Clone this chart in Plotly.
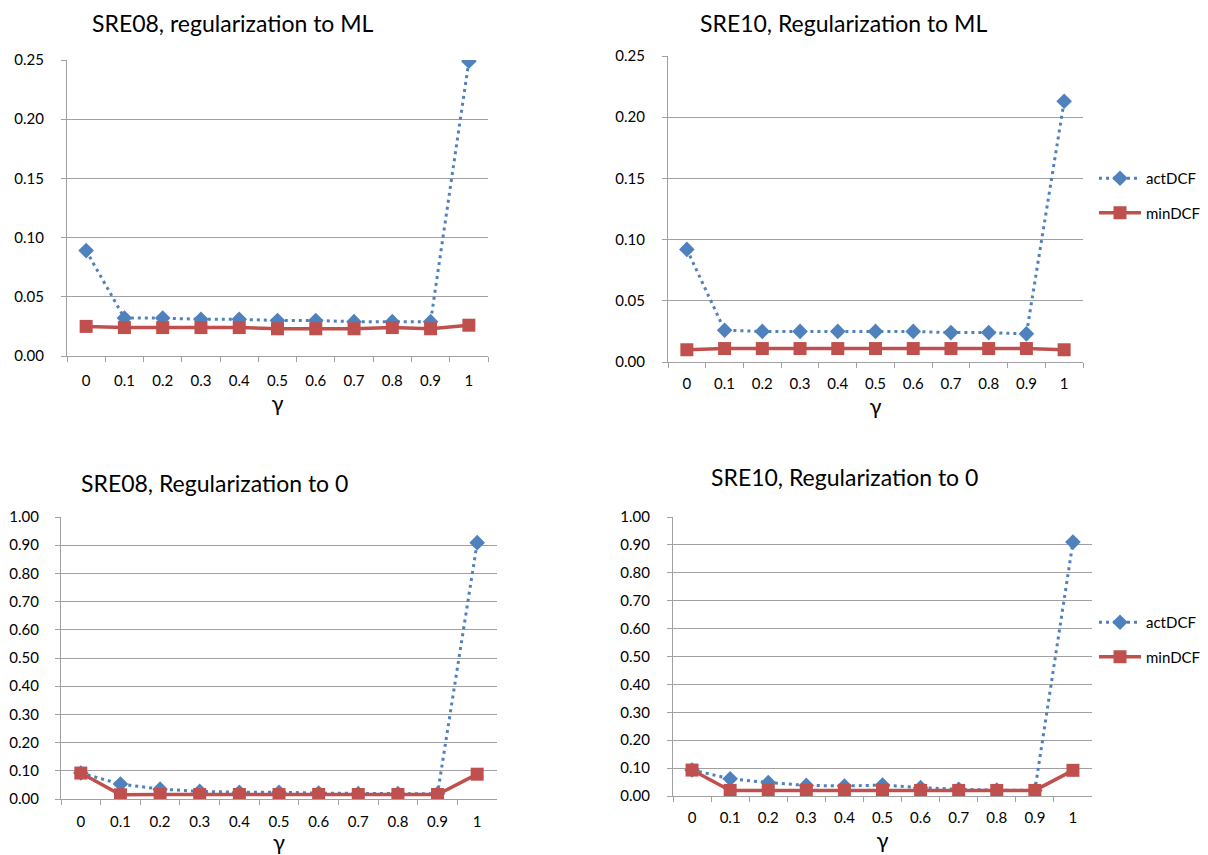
import plotly.graph_objects as go

gammas = ["0", "0.1", "0.2", "0.3", "0.4", "0.5", "0.6", "0.7", "0.8", "0.9", "1"]

titles = ["SRE08, regularization to ML", "SRE10, Regularization to ML",
          "SRE08, Regularization to 0", "SRE10, Regularization to 0"]

act_sre08_ml = [0.089, 0.032, 0.032, 0.031, 0.031, 0.030, 0.030, 0.029, 0.029, 0.029, 0.249]
min_sre08_ml = [0.025, 0.024, 0.024, 0.024, 0.024, 0.023, 0.023, 0.023, 0.024, 0.023, 0.026]
act_sre10_ml = [0.092, 0.026, 0.025, 0.025, 0.025, 0.025, 0.025, 0.024, 0.024, 0.023, 0.213]
min_sre10_ml = [0.010, 0.011, 0.011, 0.011, 0.011, 0.011, 0.011, 0.011, 0.011, 0.011, 0.010]
act_sre08_0 = [0.092, 0.053, 0.035, 0.027, 0.024, 0.024, 0.021, 0.019, 0.019, 0.019, 0.909]
min_sre08_0 = [0.092, 0.015, 0.016, 0.016, 0.016, 0.016, 0.016, 0.016, 0.016, 0.016, 0.088]
act_sre10_0 = [0.093, 0.062, 0.048, 0.038, 0.036, 0.039, 0.030, 0.024, 0.021, 0.020, 0.910]
min_sre10_0 = [0.093, 0.020, 0.020, 0.020, 0.020, 0.020, 0.020, 0.020, 0.020, 0.020, 0.092]

act_series = [act_sre08_ml, act_sre10_ml, act_sre08_0, act_sre10_0]
min_series = [min_sre08_ml, min_sre10_ml, min_sre08_0, min_sre10_0]
y_ranges = [[0, 0.25], [0, 0.25], [0, 1.0], [0, 1.0]]
y_dticks = [0.05, 0.05, 0.1, 0.1]

# The page body has an 8px margin: the figure is drawn 8px in from the
# top-left corner, so it is sized to fill the rest of the 1208x855 window.
OFF = 8
W, H = 1208 - OFF, 855 - OFF

# plot areas in window pixels: (left, right, top, bottom)
areas = [(67, 488, 60, 356), (668, 1083, 56, 362), (61, 497, 517, 799), (673, 1092, 517, 796)]
title_pos = [(233, 23), (843, 23), (215, 483), (844, 477)]
xlabel_standoff = [11, 8, 9, 8]
ylabel_standoff = [14, 14, 13, 14]
gamma_standoff = [5, 0, 8, 0]
legend_mid = [None, 195.5, None, 639.5]
legend_left = 1094

BLUE = "#4F81BD"
RED = "#C0504D"
GRID = "#A0A0A0"
FONT = "Lato"


def px_x(v):
    return (v - OFF) / W


def px_y(v):
    return 1 - (v - OFF) / H


fig = go.Figure()
layout = dict(width=W, height=H,
              margin=dict(l=0, r=0, t=0, b=0, pad=0, autoexpand=False),
              paper_bgcolor="white", plot_bgcolor="white",
              font=dict(family=FONT, size=15, color="#000000"))

annotations = []
for i in range(4):
    n = i + 1
    xa = "x" if n == 1 else f"x{n}"
    ya = "y" if n == 1 else f"y{n}"
    leg = "legend" if n == 2 else ("legend2" if n == 4 else None)
    show = leg is not None
    fig.add_trace(go.Scatter(
        x=gammas, y=act_series[i], name="actDCF", xaxis=xa, yaxis=ya,
        mode="lines+markers",
        line=dict(color=BLUE, width=3, dash="3px,4px"),
        marker=dict(symbol="diamond", size=12, color=BLUE),
        showlegend=show, legend=leg if leg else "legend",
        legendgroup=f"a{n}"))
    fig.add_trace(go.Scatter(
        x=gammas, y=min_series[i], name="minDCF", xaxis=xa, yaxis=ya,
        mode="lines+markers",
        line=dict(color=RED, width=3.5),
        marker=dict(symbol="square", size=13, color=RED),
        showlegend=show, legend=leg if leg else "legend",
        legendgroup=f"m{n}"))

    l, r, t, b = areas[i]
    xkey = "xaxis" if n == 1 else f"xaxis{n}"
    ykey = "yaxis" if n == 1 else f"yaxis{n}"
    layout[xkey] = dict(
        domain=[px_x(l), px_x(r)], anchor=ya, type="category",
        range=[-0.5, 10.5], tickson="boundaries", ticks="outside", ticklen=5,
        tickcolor=GRID, showline=True, linecolor=GRID, linewidth=1,
        showgrid=False, zeroline=False, tickfont=dict(size=15, family=FONT),
        ticklabelstandoff=xlabel_standoff[i],
        title=dict(text="γ", font=dict(size=22, family=FONT), standoff=gamma_standoff[i]),
        fixedrange=True)
    layout[ykey] = dict(
        domain=[px_y(b), px_y(t)], anchor=xa, range=y_ranges[i],
        dtick=y_dticks[i], tickformat=".2f", ticks="outside", ticklen=5,
        tickcolor=GRID, showline=True, linecolor=GRID, linewidth=1,
        showgrid=True, gridcolor=GRID, gridwidth=1, zeroline=False,
        tickfont=dict(size=15, family=FONT), ticklabelstandoff=ylabel_standoff[i],
        fixedrange=True)
    tx, ty = title_pos[i]
    annotations.append(dict(text=titles[i], x=px_x(tx), y=px_y(ty),
                            xref="paper", yref="paper", showarrow=False,
                            xanchor="center", yanchor="middle",
                            font=dict(size=23, family=FONT)))

for key, mid in (("legend", legend_mid[1]), ("legend2", legend_mid[3])):
    layout[key] = dict(x=px_x(legend_left), y=px_y(mid), xanchor="left", yanchor="middle",
                       bgcolor="rgba(0,0,0,0)", font=dict(size=15, family=FONT),
                       itemwidth=42, tracegroupgap=12, traceorder="grouped")

layout["annotations"] = annotations
fig.update_layout(**layout)
fig.write_html("out.html")
